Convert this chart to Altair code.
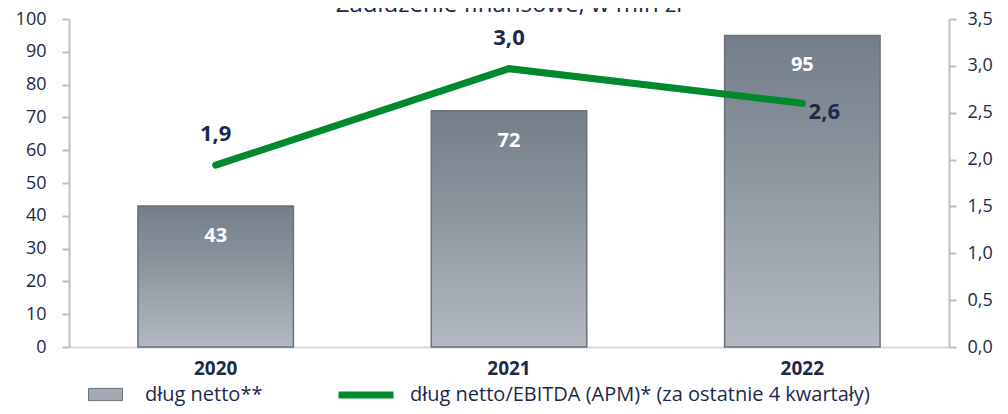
import altair as alt
import pandas as pd

years = ["2020", "2021", "2022"]
debt = [43, 72, 95]
ratio = [1.94, 2.97, 2.6]
ratio_labels = ["1,9", "3,0", "2,6"]
title_text = "Zadłużenie finansowe, w mln zł"
bar_series = "dług netto**"
line_series = "dług netto/EBITDA (APM)* (za ostatnie 4 kwartały)"
left_ticks = [0, 10, 20, 30, 40, 50, 60, 70, 80, 90, 100]
right_ticks = [0, 0.5, 1.0, 1.5, 2.0, 2.5, 3.0, 3.5]

df = pd.DataFrame({
    "year": years,
    "debt": debt,
    "ratio": ratio,
    "rlab": ratio_labels,
    "bar": [bar_series] * 3,
    "line": [line_series] * 3,
})

FONT = "Open Sans"
NAVY = "#1b2a4a"
AX = "#bfbfbf"
GREEN = "#008a2e"

xenc = alt.X(
    "year:N",
    scale=alt.Scale(paddingInner=0.47, paddingOuter=0.235),
    axis=alt.Axis(title=None, labelAngle=0, labelFont=FONT, labelFontSize=19,
                  labelFontWeight="bold", labelColor=NAVY, ticks=False,
                  domainColor="#d9d9d9", domainWidth=2, labelPadding=12),
)
yleft = alt.Y(
    "debt:Q",
    scale=alt.Scale(domain=[0, 100]),
    axis=alt.Axis(title=None, values=left_ticks, grid=False, tickSize=7,
                  tickColor=AX, tickWidth=2, domainColor=AX, domainWidth=2,
                  labelFont=FONT, labelFontSize=18, labelColor=NAVY, labelPadding=16),
)
yright = alt.Y(
    "ratio:Q",
    scale=alt.Scale(domain=[0, 3.5]),
    axis=alt.Axis(title=None, orient="right", values=right_ticks, grid=False, tickSize=7,
                  tickColor=AX, tickWidth=2, domainColor=AX, domainWidth=2,
                  labelFont=FONT, labelFontSize=18, labelColor=NAVY, labelPadding=11,
                  labelExpr="replace(format(datum.value, '.1f'), '.', ',')"),
)

base = alt.Chart(df)

grad = alt.Gradient(
    gradient="linear", x1=0, x2=0, y1=0, y2=1,
    stops=[alt.GradientStop(color="#737e89", offset=0),
           alt.GradientStop(color="#8b949d", offset=0.4),
           alt.GradientStop(color="#b3b9c1", offset=1)],
)

bars = base.mark_bar(color=grad, stroke="#6a727b", strokeWidth=1.5).encode(x=xenc, y=yleft)

bar_legend = base.mark_bar().encode(
    x=xenc, y=yleft,
    fill=alt.Fill("bar:N", scale=alt.Scale(domain=[bar_series], range=["#a3aab2"]),
                  legend=alt.Legend(title=None, orient="none", legendX=19, legendY=358,
                                    symbolType="M-1,-0.36H1V0.36H-1Z", symbolSize=1156,
                                    symbolStrokeColor="#6a727b", symbolStrokeWidth=1,
                                    symbolOpacity=1, labelFont=FONT, labelFontSize=20,
                                    labelColor=NAVY, labelOffset=22, padding=0)),
).transform_filter("false")

bar_labels = base.mark_text(dy=30, color="white", fontWeight="bold", fontSize=20,
                            font=FONT, baseline="middle").encode(x=xenc, y=yleft, text="debt:Q")

line = base.mark_line(strokeWidth=7, strokeCap="round").encode(
    x=xenc, y=yright,
    stroke=alt.Stroke("line:N", scale=alt.Scale(domain=[line_series], range=[GREEN]),
                      legend=alt.Legend(title=None, orient="none", legendX=266, legendY=345,
                                        symbolType="stroke", symbolSize=3025,
                                        symbolStrokeWidth=7, labelFont=FONT,
                                        labelFontSize=20, labelColor=NAVY,
                                        labelOffset=13, padding=0, labelLimit=700)),
)

line_labels_a = base.mark_text(dy=-31, color=NAVY, fontWeight="bold", fontSize=22,
                               font=FONT, baseline="middle").encode(
    x=xenc, y=yright, text="rlab:N").transform_filter("datum.year != '2022'")
line_labels_b = base.mark_text(dx=22, dy=9, color=NAVY, fontWeight="bold", fontSize=22,
                               font=FONT, baseline="middle").encode(
    x=xenc, y=yright, text="rlab:N").transform_filter("datum.year == '2022'")

left_layer = alt.layer(bars, bar_legend, bar_labels)
right_layer = alt.layer(line, line_labels_a, line_labels_b)

chart = alt.layer(left_layer, right_layer).resolve_scale(y="independent").properties(
    width=880, height=328,
    autosize=alt.AutoSizeParams(type="none"),
    padding={"left": 61, "top": 11, "right": 51, "bottom": 59},
    title=alt.Title(title_text, fontSize=24, font=FONT, fontWeight="normal",
                    color=NAVY, offset=-7, anchor="middle"),
).configure_view(stroke=None)

chart.save("out.html", embed_options={"renderer": "svg", "actions": False})
